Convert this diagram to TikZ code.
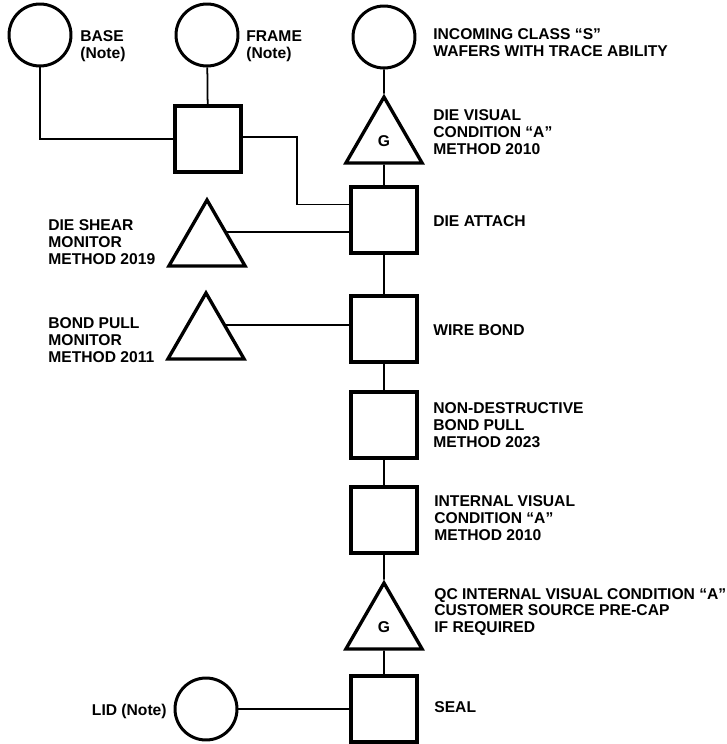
\documentclass[tikz,border=0pt]{standalone}
\usepackage{fontspec}
\setmainfont{Liberation Sans}
\usetikzlibrary{shapes,positioning,calc}

\begin{document}
\begin{tikzpicture}[x=0.02cm, y=-0.02cm,
  material/.style={circle, draw, line width=1.7pt, minimum size=1.24cm, inner sep=0pt, fill=white},
  process/.style={rectangle, draw, line width=2.1pt, minimum size=1.31cm, inner sep=0pt, fill=white},
  inspect/.style={regular polygon, regular polygon sides=3, draw, line width=1.9pt, minimum size=1.76cm, inner sep=0pt, fill=white, font=\fontsize{8.9}{9.6}\selectfont\bfseries},
  desc/.style={anchor=west, align=left, inner sep=0pt, font=\fontsize{8.9}{9.6}\selectfont\bfseries},
  flow/.style={line width=1pt}]
\useasboundingbox (0,0) rectangle (727,744);

% parts coming in
\node[material] (base) at (40,35) {};
\node[material] (frame) at (207,35) {};
\node[material] (wafer) at (384,37) {};
\node[material] (lid) at (206,709) {};

% process steps
\node[process] (join) at (208,139) {};
\node[process] (attach) at (384,220) {};
\node[process] (bond) at (384,329) {};
\node[process] (ndpull) at (384,425) {};
\node[process] (intvis) at (384,520) {};
\node[process] (seal) at (384,709) {};

% inspection points
\node[inspect] (dievis) at (384,141) {G};
\node[inspect] (shear) at (207,244) {};
\node[inspect] (pull) at (206,337) {};
\node[inspect] (qcvis) at (384,627) {G};

% texts
\node[desc] (tbase) at (80,46) {BASE\\(Note)};
\node[desc] (tframe) at (246,46) {FRAME\\(Note)};
\node[desc] (twafer) at (433,43) {INCOMING CLASS ``S''\\WAFERS WITH TRACE ABILITY};
\node[desc] (tdievis) at (433,132) {DIE VISUAL\\CONDITION ``A''\\METHOD 2010};
\node[desc] (tattach) at (433,221) {DIE ATTACH};
\node[desc] (tshear) at (48,242) {DIE SHEAR\\MONITOR\\METHOD 2019};
\node[desc] (tbond) at (433,330) {WIRE BOND};
\node[desc] (tpull) at (48,340) {BOND PULL\\MONITOR\\METHOD 2011};
\node[desc] (tndpull) at (433,425) {NON-DESTRUCTIVE\\BOND PULL\\METHOD 2023};
\node[desc] (tintvis) at (434,518) {INTERNAL VISUAL\\CONDITION ``A''\\METHOD 2010};
\node[desc] (tqcvis) at (434,612) {QC INTERNAL VISUAL CONDITION ``A''\\CUSTOMER SOURCE PRE-CAP\\IF REQUIRED};
\node[desc] (tseal) at (434,707) {SEAL};
\node[desc, anchor=east] (tlid) at (167,711) {LID (Note)};

% connecting lines
\coordinate (bend) at (297,137);
\draw[flow] (base) |- (join);
\draw[flow] (frame) -- (join);
\draw[flow] (join.east |- bend) -- (bend) |- ($(attach.west)!0.45!(attach.north west)$);
\draw[flow] (wafer) -- (dievis);
\draw[flow] (dievis) -- (attach);
\draw[flow] (attach) -- (bond);
\draw[flow] (bond) -- (ndpull);
\draw[flow] (ndpull) -- (intvis);
\draw[flow] (intvis) -- (qcvis);
\draw[flow] (qcvis) -- (seal);
\draw[flow] (shear.side 3) -- (shear.side 3 -| attach.west);
\draw[flow] (pull.side 3) -- (pull.side 3 -| bond.west);
\draw[flow] (lid) -- (seal);
\end{tikzpicture}
\end{document}
